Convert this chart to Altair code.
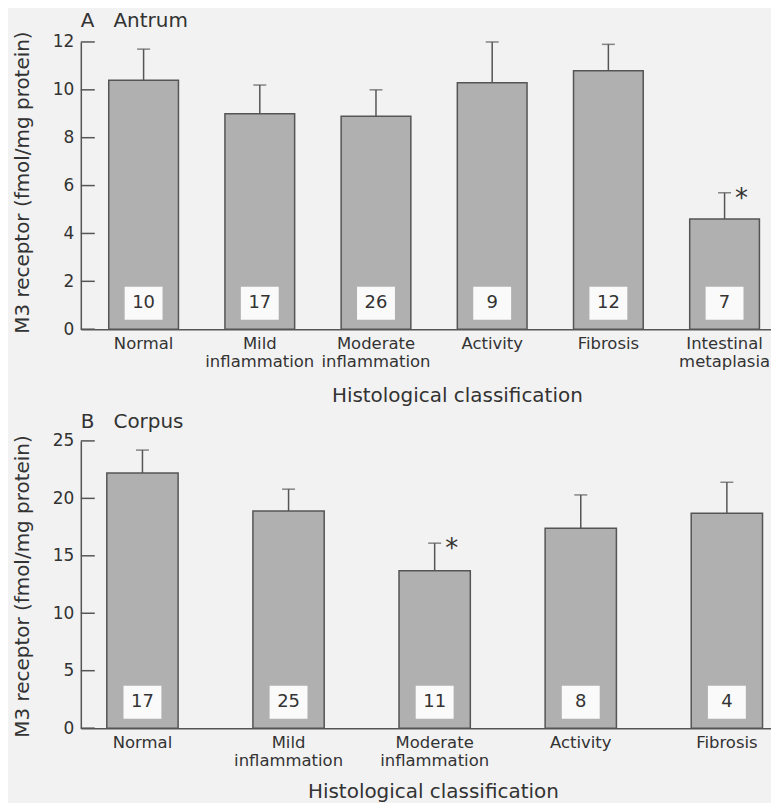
import altair as alt
import pandas as pd

# ---------------- data ----------------
cats_a = ["Normal", "Mild inflammation", "Moderate inflammation", "Activity",
          "Fibrosis", "Intestinal metaplasia"]
mean_a = [10.4, 9.0, 8.9, 10.3, 10.8, 4.6]
upper_a = [11.7, 10.2, 10.0, 12.0, 11.9, 5.7]
n_a = [10, 17, 26, 9, 12, 7]
sig_a = [False, False, False, False, False, True]
ticks_a = [0, 2, 4, 6, 8, 10, 12]

cats_b = ["Normal", "Mild inflammation", "Moderate inflammation", "Activity", "Fibrosis"]
mean_b = [22.2, 18.9, 13.7, 17.4, 18.7]
upper_b = [24.2, 20.8, 16.1, 20.3, 21.4]
n_b = [17, 25, 11, 8, 4]
sig_b = [False, False, True, False, False]
ticks_b = [0, 5, 10, 15, 20, 25]

FONT = "DejaVu Sans"
TEXT = "#333333"
LINE = "#555555"
BAR = "#b0b0b0"


def panel(title, cats, mean, upper, n, sig, ticks, pi, po, align, xtitle_x, xtitle_y, ytitle_y):
    df = pd.DataFrame({"cat": cats, "mean": mean, "upper": upper, "n": n, "sig": sig})
    tdf = pd.DataFrame({"t": ticks})
    xscale = alt.Scale(domain=cats, paddingInner=pi, paddingOuter=po, align=align)
    yscale = alt.Scale(domain=[0, ticks[-1]], nice=False, zero=True)

    x_axis = alt.Axis(
        title="Histological classification", labelAngle=0,
        labelExpr="split(datum.label, ' ')", ticks=False, tickSize=0,
        domainColor=LINE, domainWidth=1.5,
        labelFont=FONT, labelFontSize=16.5, labelColor=TEXT, labelPadding=6,
        labelLineHeight=18,
        titleFont=FONT, titleFontSize=20, titleFontWeight="normal", titleColor=TEXT,
        titleX=xtitle_x, titleY=xtitle_y, titleBaseline="alphabetic", titleAlign="center")
    y_axis = alt.Axis(
        title="M3 receptor (fmol/mg protein)", values=ticks, grid=False,
        ticks=False, tickSize=0, domainColor=LINE, domainWidth=1.5,
        labelFont=FONT, labelFontSize=17, labelColor=TEXT, labelPadding=7,
        titleFont=FONT, titleFontSize=20, titleFontWeight="normal", titleColor=TEXT,
        titleX=-52, titleY=ytitle_y, titleBaseline="alphabetic", titleAlign="center")

    X = alt.X("cat:N", scale=xscale, axis=x_axis, title="Histological classification")

    def Y(field):
        return alt.Y(field, scale=yscale, axis=y_axis, title="M3 receptor (fmol/mg protein)")

    base = alt.Chart(df)
    bars = base.mark_bar(fill=BAR, stroke=LINE, strokeWidth=1.5).encode(
        x=X, y=Y("mean:Q"))
    err = base.mark_rule(color=LINE, strokeWidth=1.5).encode(
        x=X, y=Y("mean:Q"), y2="upper:Q")
    cap = base.mark_tick(color=LINE, thickness=1.5, size=13).encode(
        x=X, y=Y("upper:Q"))
    boxes = base.mark_point(
        shape="M-1,-0.87L1,-0.87L1,0.87L-1,0.87Z", size=1444, filled=True,
        fill="#fafafa", opacity=1, strokeWidth=0, yOffset=-26).encode(
        x=X, y=alt.datum(0, scale=yscale, axis=y_axis, title="M3 receptor (fmol/mg protein)"))
    nums = base.mark_text(font=FONT, fontSize=18, color=TEXT, baseline="middle",
                          yOffset=-26).encode(
        x=X, y=alt.datum(0, scale=yscale, axis=y_axis, title="M3 receptor (fmol/mg protein)"),
        text="n:Q")
    star = base.transform_filter("datum.sig").mark_text(
        text="*", font=FONT, fontSize=26, color=TEXT, dx=17, dy=14,
        baseline="alphabetic").encode(
        x=X, y=Y("upper:Q"))
    inner_ticks = alt.Chart(tdf).mark_rule(color=LINE, strokeWidth=1.5).encode(
        y=Y("t:Q"), x=alt.value(0), x2=alt.value(14))

    return alt.layer(bars, err, cap, boxes, nums, star, inner_ticks).properties(
        width=692, height=288,
        title=alt.TitleParams(title, anchor="start", font=FONT, fontSize=20,
                              fontWeight="normal", color=TEXT, offset=-16,
                              baseline="alphabetic", frame="group"))


a = panel("A\u00a0\u00a0\u00a0Antrum", cats_a, mean_a, upper_a, n_a, sig_a, ticks_a,
          0.4, 0.17, 0.707, 377, 72, 140.5)
b = panel("B\u00a0\u00a0\u00a0Corpus", cats_b, mean_b, upper_b, n_b, sig_b, ticks_b,
          0.512, 0.118, 0.754, 353, 70, 145.5)

chart = alt.vconcat(a, b, spacing=112, bounds="flush").properties(
    background="#f2f2f2",
    padding={"left": 4, "top": 1, "right": 0, "bottom": 0},
).configure_view(stroke=None)

chart.save("out.html", embed_options={"renderer": "svg", "actions": False})
